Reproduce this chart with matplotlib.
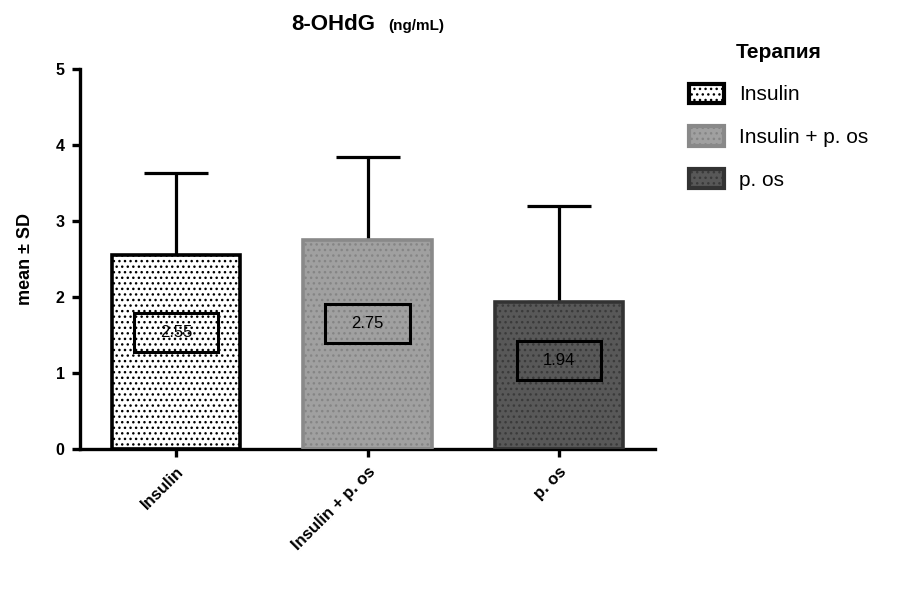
import matplotlib
matplotlib.use("Agg")
import matplotlib.pyplot as plt
from matplotlib.patches import Patch, Rectangle
import numpy as np

plt.rcParams['font.family'] = ['Liberation Sans', 'DejaVu Sans']
plt.rcParams['hatch.linewidth'] = 1.0

# groups and summary stats
groups = ['Insulin', 'Insulin + p. os', 'p. os']
means = [2.55, 2.75, 1.94]
sds = [1.08, 1.09, 1.26]

face_colors = ['#ffffff', '#a0a0a0', '#585858']
dot_colors = ['#000000', '#858585', '#3a3a3a']
edge_colors = ['#000000', '#898989', '#333333']

fig = plt.figure(figsize=(9.05, 5.90), dpi=100)
ax = fig.add_axes([80 / 905, 1 - 449 / 590, 575 / 905, 380 / 590])

x = np.arange(len(groups))
width = 0.67

# upper error bars, under the bars
ax.errorbar(x, means, yerr=[np.zeros(len(sds)), sds], fmt='none',
            ecolor='black', elinewidth=2.3, capsize=23, capthick=2.3, zorder=1)

# dotted fill first, outline on top
ax.bar(x, means, width, color=face_colors, edgecolor=dot_colors,
       hatch='...', linewidth=0, zorder=2)
ax.bar(x, means, width, fill=False, edgecolor=edge_colors, linewidth=2.6, zorder=3)

# boxed value labels inside each bar
box_w, box_h = 0.44, 0.51
for xi, m in zip(x, means):
    yc = m * 0.6
    ax.add_patch(Rectangle((xi - box_w / 2, yc - box_h / 2), box_w, box_h,
                           fill=False, edgecolor='black', linewidth=2.2, zorder=4))
    ax.text(xi, yc, f'{m:.2f}', ha='center', va='center', fontsize=12, zorder=5)

ax.set_xlim(-0.5, 2.5)
ax.set_ylim(0, 5)
ax.set_yticks([0, 1, 2, 3, 4, 5])
ax.set_xticks(x)
ax.set_xticklabels(groups, rotation=45, ha='right', rotation_mode='anchor',
                   fontweight='bold', fontsize=12)
for lbl in ax.get_yticklabels():
    lbl.set_fontweight('bold')
    lbl.set_fontsize(11.5)

for side in ['top', 'right']:
    ax.spines[side].set_visible(False)
for side in ['left', 'bottom']:
    ax.spines[side].set_linewidth(2.4)
ax.tick_params(axis='both', width=2.4, length=6, pad=5)

ax.set_ylabel('mean ± SD', fontsize=13, fontweight='bold', labelpad=16)

# title in two sizes
fig.text(375 / 905, 1 - 24 / 590, '8-OHdG', ha='right', va='center',
         fontsize=16, fontweight='bold')
fig.text(388 / 905, 1 - 26 / 590, '(ng/mL)', ha='left', va='center',
         fontsize=11, fontweight='bold')

handles = [(Patch(facecolor=fc, edgecolor=dc, hatch='...', linewidth=0),
            Patch(fill=False, edgecolor=ec, linewidth=3))
           for fc, dc, ec in zip(face_colors, dot_colors, edge_colors)]
leg = fig.legend(handles, groups, loc='upper left',
                 bbox_to_anchor=(670 / 905, 1 - 24 / 590), frameon=False,
                 title='Терапия', fontsize=15, handlelength=1.7, handleheight=1.05,
                 labelspacing=1.05, handletextpad=0.7)
leg.get_title().set_fontweight('bold')
leg.get_title().set_fontsize(15)

fig.savefig('out.png', dpi=100)
